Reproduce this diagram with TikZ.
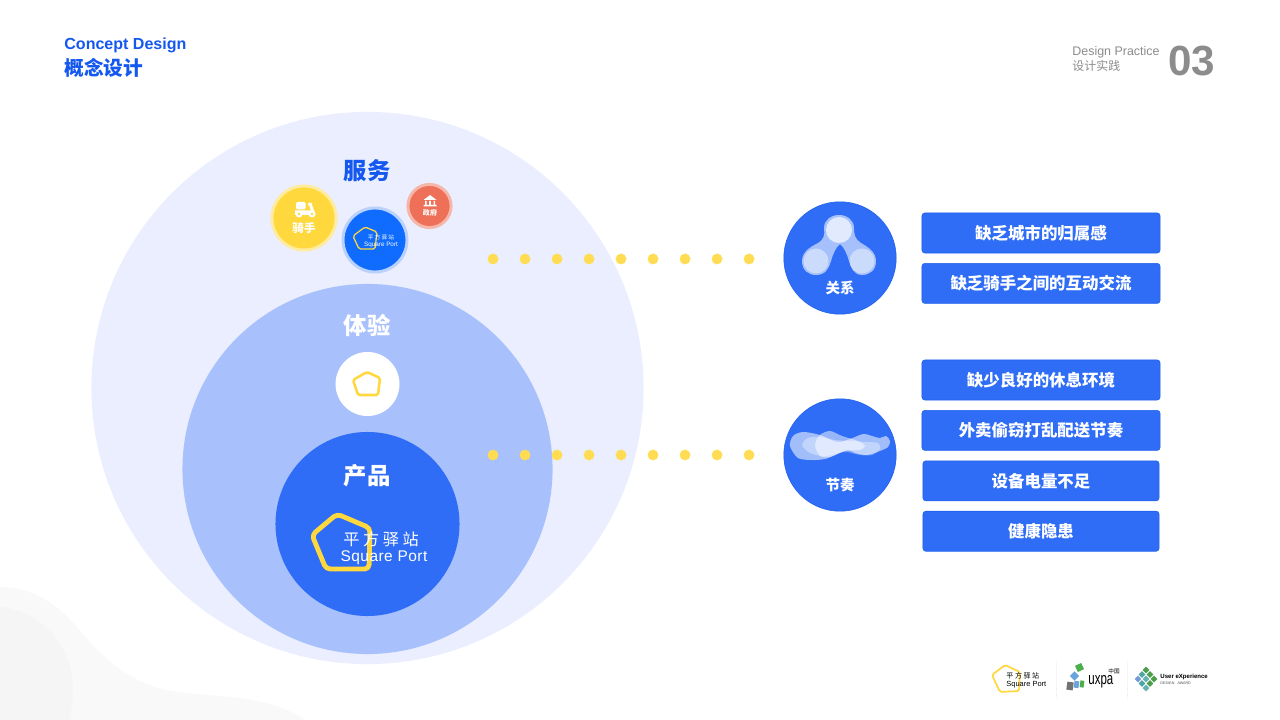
\documentclass[tikz,border=0pt]{standalone}
\usepackage{fontspec}
\setmainfont{Liberation Sans}
\newfontfamily\cjk{Noto Sans CJK SC}
\newfontfamily\cjkwide[LetterSpace=22]{Noto Sans CJK SC}
\newfontfamily\latinwide[LetterSpace=3]{Liberation Sans}
\newfontfamily\uxpafont[FakeStretch=.68]{Liberation Sans}
\definecolor{paleblue}{HTML}{EAEEFE}
\definecolor{midblue}{HTML}{A8C0FC}
\definecolor{mainblue}{HTML}{2F6DF6}
\definecolor{edgeblue}{HTML}{1F60EE}
\definecolor{titleblue}{HTML}{1458F0}
\definecolor{brightblue}{HTML}{0F6CFF}
\definecolor{logoyellow}{HTML}{FFD83E}
\definecolor{tomato}{HTML}{EE7058}
\definecolor{greytext}{HTML}{8C8C8C}
\tikzset{fs/.style={font=\fontsize{#1}{#1}\selectfont}}
\begin{document}
\begin{tikzpicture}[x=0.025cm,y=-0.025cm,node distance=1.26cm,semithick]
  \tikzstyle{disc}=[circle,inner sep=0pt,draw=none]
  \tikzstyle{place}=[rectangle,draw=edgeblue,fill=mainblue,rounded corners=2pt,thin,
                     minimum width=5.95cm,minimum height=1cm,inner sep=0pt,text=white,font=\cjk\bfseries\fontsize{11.7}{12}\selectfont]
  \tikzstyle{narrow}=[place,minimum width=5.9cm]
  \tikzstyle{heading}=[inner sep=0pt,font=\cjk\bfseries\fontsize{16.6}{17}\selectfont]
  \tikzstyle{dot}=[circle,fill=logoyellow!90!white,minimum size=0.27cm,inner sep=0pt]
  \tikzstyle{logo}=[draw=logoyellow,line join=round,rounded corners=1.2pt]
  \tikzstyle{tile}=[rectangle,inner sep=0pt,minimum size=0.12cm]
  \useasboundingbox (0,0) rectangle (1280,720);

  % background
  \fill[white] (0,0) rectangle (1280,720);
  \fill[black!2.5] (0,587) .. controls (30,587) and (55,602) .. (75,625)
    .. controls (100,655) and (125,680) .. (165,690)
    .. controls (205,698) and (265,692) .. (305,720) -- (0,720) -- cycle;
  \fill[black!4] (0,607) .. controls (40,610) and (73,645) .. (73,690)
    .. controls (73,702) and (71,712) .. (69,720) -- (0,720) -- cycle;

  % header
  \node[inner sep=0pt,anchor=west,text=titleblue,font=\bfseries\fontsize{11.4}{12}\selectfont] (concept) at (64,45) {Concept Design};
  \node[inner sep=0pt,anchor=west,text=titleblue,font=\cjk\bfseries\fontsize{14}{15}\selectfont] (conceptcn) at (64,68) {概念设计};
  \node[inner sep=0pt,anchor=west,text=greytext,fs=8.85] (practice) at (1072,52) {Design Practice};
  \node[inner sep=0pt,anchor=west,text=greytext,font=\cjk\fontsize{8.5}{9}\selectfont] (practicecn) at (1072,66) {设计实践};
  \node[inner sep=0pt,anchor=west,text=greytext,font=\bfseries\fontsize{30}{30}\selectfont] (num) at (1168,61) {03};

  % nested circles
  \node[disc,fill=paleblue,minimum size=13.8cm] (service) at (367.5,388) {};
  \node[disc,fill=midblue,minimum size=9.25cm] (experience) at (367.5,469) {};
  \node[disc,fill=mainblue,minimum size=4.6cm] (product) at (367.5,524) {};
  \node[disc,fill=white,minimum size=1.6cm] (core) at (367.5,384) {};
  \node[heading,text=titleblue] (servicet) at (367,171) {服务};
  \node[heading,text=white] (experiencet) at (367,325) {体验};
  \node[heading,text=white] (productt) at (367,476) {产品};

  \draw[logo,line width=1.8pt] (367,372) -- (380,378) -- (378,395) -- (358,395) -- (353,380) -- cycle;

  % small circles
  \node[disc,fill=logoyellow,draw=logoyellow!50!white,line width=2.1pt,minimum size=1.6cm] (rider) at (304,218) {};
  \node[disc,fill=brightblue,draw=brightblue!22!paleblue,line width=2.1pt,minimum size=1.6cm] (port) at (375,240) {};
  \node[disc,fill=tomato,draw=tomato!50!white,line width=2.1pt,minimum size=1.08cm] (gov) at (429.5,206) {};
  \node[inner sep=0pt,text=white,font=\cjk\bfseries\fontsize{8.2}{9}\selectfont] (ridert) at (304,228) {骑手};
  \node[inner sep=0pt,text=white,font=\cjk\bfseries\fontsize{5}{6}\selectfont] (govt) at (430,212.5) {政府};

  \fill[white,rounded corners=1pt] (296,202) rectangle (305.5,209.5);
  \fill[white,rounded corners=.5pt] (308,203) rectangle (312,205.5);
  \fill[white] (295,210.5) -- (311,210.5) -- (309,205) -- (312,205) -- (315,213) -- (315,215) -- (295,215) -- cycle;
  \fill[white] (299,214) circle (3.5) (312,214) circle (3.5);
  \fill[logoyellow] (299,214) circle (1.3) (312,214) circle (1.3);
  \fill[white] (423.5,200) -- (430,195) -- (436.5,200) -- cycle;
  \fill[white] (425,201) rectangle (426.5,205) (429.2,201) rectangle (430.8,205) (433.5,201) rectangle (435,205) (423.5,205) rectangle (436.5,206.5);

  \draw[logo,line width=0.9pt] (365,227) -- (377,232) -- (375,249) -- (359,249) -- (353,236) -- cycle;
  \node[inner sep=0pt,text=white,font=\cjkwide\fontsize{4}{5}\selectfont] (portcn) at (381,237.5) {平方驿站};
  \node[inner sep=0pt,text=white,fs=4.5] (porten) at (381,245) {Square Port};

  % big logo
  \draw[logo,line width=3.4pt,rounded corners=3pt] (337,514) -- (370,528) -- (369,569) -- (326,569) -- (312,535) -- cycle;
  \node[inner sep=0pt,text=white,font=\cjkwide\fontsize{11.5}{12}\selectfont] (logocn) at (381,539) {平方驿站};
  \node[inner sep=0pt,text=white,font=\latinwide\fontsize{11}{12}\selectfont] (logoen) at (384,558) {Square Port};

  % dots
  \foreach \r/\y in {a/259,b/455} {
    \node[dot] (\r0) at (493,\y) {};
    \foreach \i/\j in {0/1,1/2,2/3,3/4,4/5,5/6,6/7,7/8}
      \node[dot,node distance=0.8cm] (\r\j) [right of=\r\i] {};
  }

  % right circles
  \node[disc,fill=mainblue,draw=edgeblue,thin,minimum size=2.81cm] (relation) at (840,258) {};
  \node[disc,fill=mainblue,draw=edgeblue,thin,minimum size=2.81cm] (rhythm) at (840,455) {};
  \node[inner sep=0pt,text=white,font=\cjk\bfseries\fontsize{10.3}{11}\selectfont] (relationt) at (840,288) {关系};
  \node[inner sep=0pt,text=white,font=\cjk\bfseries\fontsize{10.3}{11}\selectfont] (rhythmt) at (840,485) {节奏};

  \fill[white,opacity=.57] (824,228) .. controls (825,235) and (824,239) .. (818,243)
    .. controls (810,247) and (802,252) .. (802,261) .. controls (802,270) and (808,275) .. (816,275)
    .. controls (826,275) and (829,268) .. (831,261) .. controls (833,254) and (836,247) .. (840,244)
    .. controls (844,247) and (847,254) .. (849,261) .. controls (851,268) and (854,275) .. (862,275)
    .. controls (870,275) and (876,270) .. (876,261) .. controls (876,252) and (868,247) .. (861,243)
    .. controls (855,239) and (854,235) .. (854,228) .. controls (854,220) and (847,215) .. (839,215)
    .. controls (831,215) and (824,220) .. (824,228) -- cycle;
  \fill[white,opacity=.43] (839,230) circle (13) (816,261) circle (12.5) (862,261) circle (12.5);
  \fill[white,opacity=.45] (839,230) circle (13);

  \fill[white,opacity=.55] plot[smooth cycle] coordinates {(790,446) (793,436) (803,432) (820,435) (837,442) (850,439) (863,434) (872,436) (880,438) (886,436) (890,441) (888,447) (880,451) (867,455) (855,453) (847,450) (835,455) (825,459) (812,460) (798,458)};
  \fill[white,opacity=.35] plot[smooth cycle] coordinates {(802,445) (808,438) (820,437) (835,440) (850,441) (865,442) (878,443) (880,449) (872,455) (860,455) (845,452) (825,456) (810,453)};
  \fill[white,opacity=.5] plot[smooth cycle] coordinates {(815,445) (820,435) (830,431) (842,436) (858,441) (865,446) (860,450) (845,451) (830,457) (820,456)};

  % boxes
  \node[place] (r1) at (1041,233) {缺乏城市的归属感};
  \node[place] (r2) [below of=r1] {缺乏骑手之间的互动交流};
  \node[place] (t1) at (1041,380) {缺少良好的休息环境};
  \node[place] (t2) [below of=t1] {外卖偷窃打乱配送节奏};
  \node[narrow] (t3) [below of=t2] {设备电量不足};
  \node[narrow] (t4) [below of=t3] {健康隐患};

  % footer logos
  \draw[logo,line width=1.2pt] (1005,665) -- (1020,672) -- (1019,691) -- (1000,692) -- (992,675) -- cycle;
  \node[inner sep=0pt,anchor=west,font=\cjkwide\fontsize{5}{6}\selectfont] (footcn) at (1006,676) {平方驿站};
  \node[inner sep=0pt,anchor=west,fs=5.3] (footen) at (1006,685) {Square Port};
  \draw[black!8,densely dotted,thin] (1056.5,662) -- (1056.5,698);
  \draw[black!8,densely dotted,thin] (1127.5,662) -- (1127.5,698);

  \node[tile,fill=green!55!black!70,minimum size=0.17cm,rotate=25] (ux1) at (1079.5,667.5) {};
  \node[tile,fill=cyan!60!blue!60,minimum size=0.16cm,rotate=45] (ux2) at (1074.5,676) {};
  \node[tile,fill=black!55,rotate=-8,minimum width=0.16cm,minimum height=0.2cm] (ux3) at (1070,686) {};
  \node[tile,fill=cyan!60!blue!60,rotate=-8,minimum width=0.12cm,minimum height=0.17cm] (ux4) at (1076.5,684.5) {};
  \node[tile,fill=green!55!black!70,rotate=-8,minimum width=0.1cm,minimum height=0.17cm] (ux5) at (1082,684) {};
  \node[inner sep=0pt,anchor=west,font=\uxpafont\fontsize{12}{12}\selectfont] (uxpa) at (1088,682) {uxpa};
  \node[inner sep=0pt,font=\cjk\fontsize{4}{5}\selectfont] (uxpacn) at (1114,671) {中国};

  \foreach \n/\x/\y/\c in {a/1146/670/green!45!black!70,b/1142/674.5/teal!70,c/1150/674.5/green!45!black!70,
      d/1138/679/cyan!45!blue!55,e/1146/679/teal!60,f/1154/679/green!45!black!70,g/1142/683.5/teal!70,h/1150/683.5/green!45!black!70,i/1146/688/teal!60}
    \node[tile,fill=\c,rotate=45] (ue\n) at (\x,\y) {};
  \node[inner sep=0pt,anchor=west,font=\bfseries\fontsize{4.3}{5}\selectfont] (uename) at (1160,677) {User eXperience};
  \node[inner sep=0pt,anchor=west,text=black!70,fs=2.6] (ueaward) at (1160,683) {DESIGN \ \ AWARD};
\end{tikzpicture}
\end{document}
